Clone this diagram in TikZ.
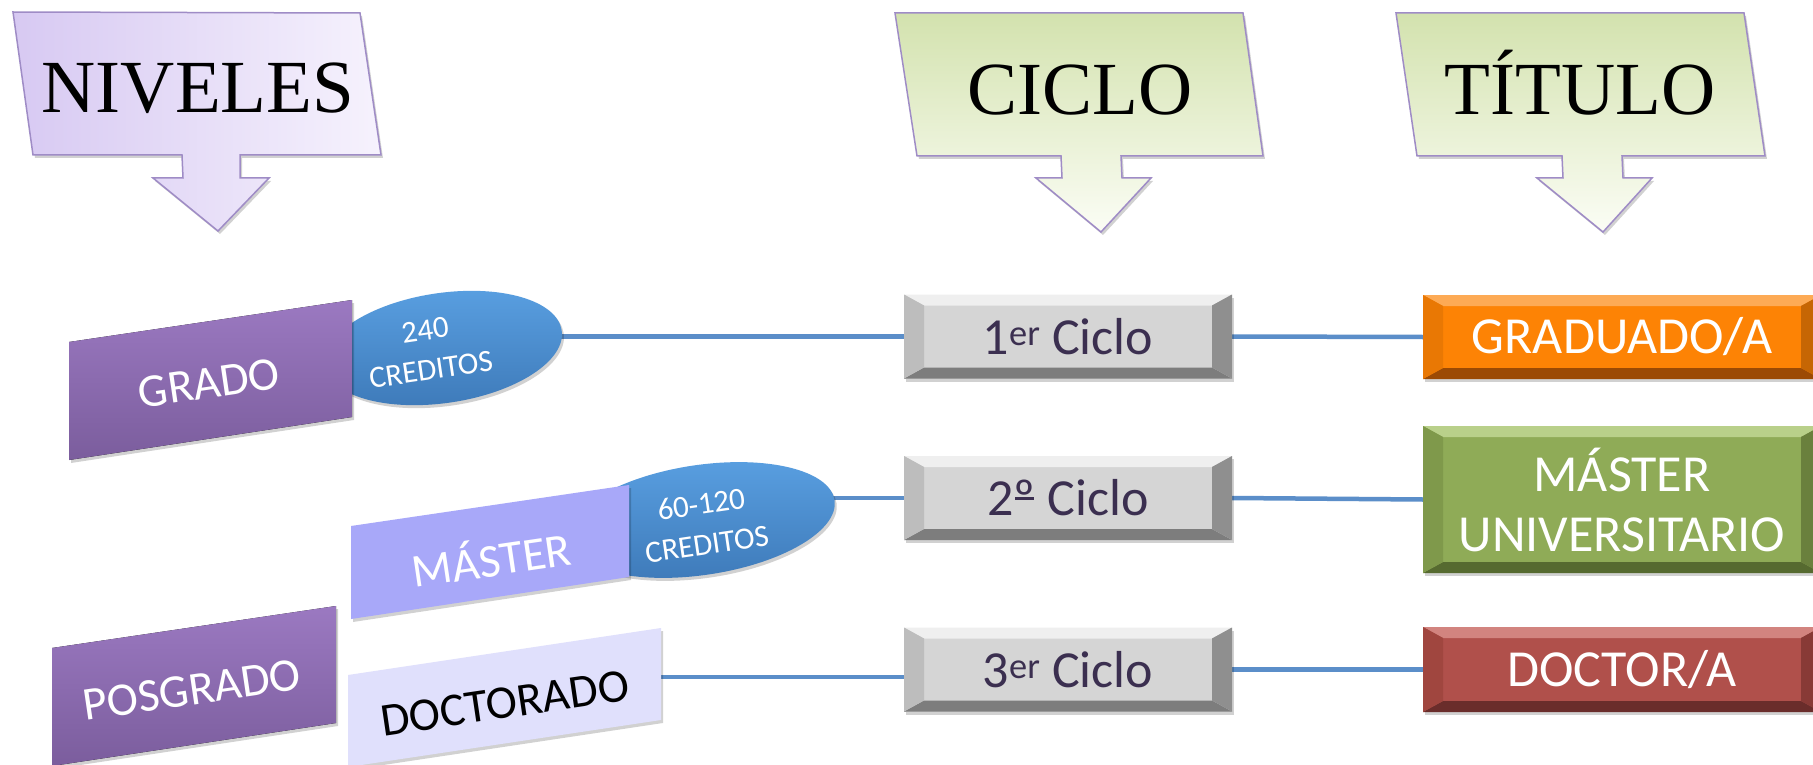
\documentclass[tikz,border=0pt]{standalone}
\usepackage{fontspec}
\setmainfont{Carlito}
\newfontfamily\titlefont{Liberation Serif}
\usetikzlibrary{shapes.geometric,shadows}
\pgfdeclarelayer{bg}
\pgfsetlayers{bg,main}
\definecolor{nivL}{HTML}{D7C9F2}
\definecolor{nivR}{HTML}{F6F2FD}
\definecolor{cicT}{HTML}{D3E2AE}
\definecolor{cicB}{HTML}{FBFDF5}
\definecolor{calloutedge}{HTML}{9F8CC6}
\definecolor{gradeT}{HTML}{9B79C1}
\definecolor{gradeB}{HTML}{7B5D9D}
\definecolor{masterC}{HTML}{A8A8F9}
\definecolor{doctC}{HTML}{E0E0FC}
\definecolor{credT}{HTML}{5AA0E2}
\definecolor{credB}{HTML}{3D79B8}
\definecolor{linkC}{HTML}{5B8EC9}
\definecolor{cicloTxt}{HTML}{3B2F50}
\definecolor{gFace}{HTML}{D5D5D5}\definecolor{gTop}{HTML}{EFEFEF}\definecolor{gBot}{HTML}{7D7D7D}\definecolor{gLeft}{HTML}{BDBDBD}\definecolor{gRight}{HTML}{8F8F8F}
\definecolor{oFace}{HTML}{FD8305}\definecolor{oTop}{HTML}{FDAA55}\definecolor{oBot}{HTML}{9C4A04}\definecolor{oLeft}{HTML}{E97804}\definecolor{oRight}{HTML}{C66604}
\definecolor{vFace}{HTML}{8FAB57}\definecolor{vTop}{HTML}{B9D08A}\definecolor{vBot}{HTML}{566A30}\definecolor{vLeft}{HTML}{7F994B}\definecolor{vRight}{HTML}{6A803D}
\definecolor{rFace}{HTML}{B0504B}\definecolor{rTop}{HTML}{D2847F}\definecolor{rBot}{HTML}{6A2D2B}\definecolor{rLeft}{HTML}{A0463F}\definecolor{rRight}{HTML}{883A36}
\newcommand\ordmasc{\setbox0\hbox{º}\rlap{\hspace{0.03em}\rule[0.3em]{\dimexpr\wd0-0.06em\relax}{0.06em}}\box0}
\tikzset{
  softshadow/.style={drop shadow={shadow xshift=2pt, shadow yshift=-3pt, fill=black, opacity=0.18}},
  callout/.style={draw=calloutedge, line width=1.5pt, line join=miter, softshadow},
  titletxt/.style={font=\titlefont\fontsize{75}{80}\selectfont, anchor=base, inner sep=0pt},
  leveltxt/.style={font=\fontsize{47}{56}\selectfont, text=white, rotate=8.4, inner sep=0pt},
  credit/.style={ellipse, top color=credT, bottom color=credB, inner sep=0pt, rotate=8.4, softshadow},
  credtxt/.style={font=\fontsize{31}{40}\selectfont, text=white, align=center, rotate=8.4, inner sep=0pt},
  link/.style={draw=linkC, line width=4.5pt},
  bevel/.style n args={5}{fill=#1, inner sep=0pt, softshadow, path picture={
    \path (path picture bounding box.north west) coordinate (bvnw)
          (path picture bounding box.north east) coordinate (bvne)
          (path picture bounding box.south west) coordinate (bvsw)
          (path picture bounding box.south east) coordinate (bvse);
    \fill[#2] (bvnw) -- (bvne) -- ([xshift=-20pt,yshift=-11pt]bvne) -- ([xshift=20pt,yshift=-11pt]bvnw) -- cycle;
    \fill[#3] (bvsw) -- (bvse) -- ([xshift=-20pt,yshift=11pt]bvse) -- ([xshift=20pt,yshift=11pt]bvsw) -- cycle;
    \fill[#4] (bvnw) -- ([xshift=20pt,yshift=-11pt]bvnw) -- ([xshift=20pt,yshift=11pt]bvsw) -- (bvsw) -- cycle;
    \fill[#5] (bvne) -- ([xshift=-20pt,yshift=-11pt]bvne) -- ([xshift=-20pt,yshift=11pt]bvse) -- (bvse) -- cycle;
  }},
  cicbox/.style={bevel={gFace}{gTop}{gBot}{gLeft}{gRight}, minimum width=328pt, minimum height=84pt,
    text=cicloTxt, font=\fontsize{52}{60}\selectfont},
  titbox/.style={minimum width=398pt, text=white, align=center, font=\fontsize{52}{60}\selectfont}
}
\begin{document}
\begin{tikzpicture}[x=1pt,y=-1pt]
\useasboundingbox (0,0) rectangle (1813,765);
\begin{pgfonlayer}{bg}
\fill[white] (0,0) rectangle (1813,765);
\end{pgfonlayer}

% ---- header callouts
\draw[callout, left color=nivL, right color=nivR]
  (13,12) -- (360,13) -- (381,155) -- (240,155) -- (240,178) -- (269,178) -- (218,231)
  -- (153,178) -- (183,178) -- (182,155) -- (33,155) -- cycle;
\node[titletxt] (niv) at (198,113) {NIVELES};

\draw[callout, top color=cicT, bottom color=cicB]
  (895,13) -- (1243,13) -- (1263,156) -- (1121,156) -- (1122,178) -- (1151,178) -- (1101,232)
  -- (1036,178) -- (1062,178) -- (1061,156) -- (917,156) -- cycle;
\node[titletxt] (cic) at (1080,115) {CICLO};

\draw[callout, top color=cicT, bottom color=cicB]
  (1396,13) -- (1744,13) -- (1765,156) -- (1622,156) -- (1623,178) -- (1652,178) -- (1603,232)
  -- (1537,178) -- (1563,178) -- (1562,156) -- (1417,156) -- cycle;
\node[titletxt] (tit) at (1580,115) {TÍTULO};

% ---- credit ellipses (behind level boxes)
\node[credit, minimum width=240pt, minimum height=110pt] (e1) at (443,348) {};
\node[credit, minimum width=270pt, minimum height=110pt] (e2) at (701,520) {};

% ---- level boxes
\fill[top color=gradeT, bottom color=gradeB, softshadow] (69,342) -- (352,300) -- (352,417) -- (69,460) -- cycle;
\node[leveltxt] (grado) at (209,383) {GRADO};

\fill[masterC, softshadow] (351,526) -- (629,485) -- (629,577) -- (351,619) -- cycle;
\node[leveltxt] (master) at (491,557) {MÁSTER};

\fill[top color=gradeT, bottom color=gradeB, softshadow] (52,648) -- (336,606) -- (336,723) -- (52,766) -- cycle;
\node[leveltxt] (posgrado) at (192,690) {POSGRADO};

\fill[doctC, softshadow] (348,675) -- (661,628) -- (661,720) -- (348,767) -- cycle;
\node[leveltxt, text=black] (doctorado) at (505,703) {DOCTORADO};
\coordinate (docR) at (661,677);

% ---- credit texts
\node[credtxt] (c240) at (428,350) {240\\CREDITOS};
\node[credtxt] (c60) at (704,524) {60-120\\CREDITOS};

% ---- ciclo boxes
\node[cicbox] (c1) at (1068,336.5) {1\textsuperscript{er} Ciclo};
\node[cicbox] (c2) at (1068,498) {2\ordmasc{} Ciclo};
\node[cicbox] (c3) at (1068,669.5) {3\textsuperscript{er} Ciclo};

% ---- title boxes
\node[titbox, bevel={oFace}{oTop}{oBot}{oLeft}{oRight}, minimum height=84pt] (t1) at (1622,337) {GRADUADO/A};
\node[titbox, bevel={vFace}{vTop}{vBot}{vLeft}{vRight}, minimum height=147pt] (t2) at (1622,499.5) {MÁSTER\\UNIVERSITARIO};
\node[titbox, bevel={rFace}{rTop}{rBot}{rLeft}{rRight}, minimum height=85pt] (t3) at (1622,669.5) {DOCTOR/A};

% ---- connectors
\begin{pgfonlayer}{bg}
\draw[link] (c1.west -| e1.center) -- (c1.west);
\draw[link] (c1.east) -- (t1.west);
\draw[link] (c2.west -| e2.center) -- (c2.west);
\draw[link] (c2.east) -- (t2.west);
\draw[link] (docR) -- (docR -| c3.west);
\draw[link] (c3.east) -- (t3.west);
\end{pgfonlayer}
\end{tikzpicture}
\end{document}
